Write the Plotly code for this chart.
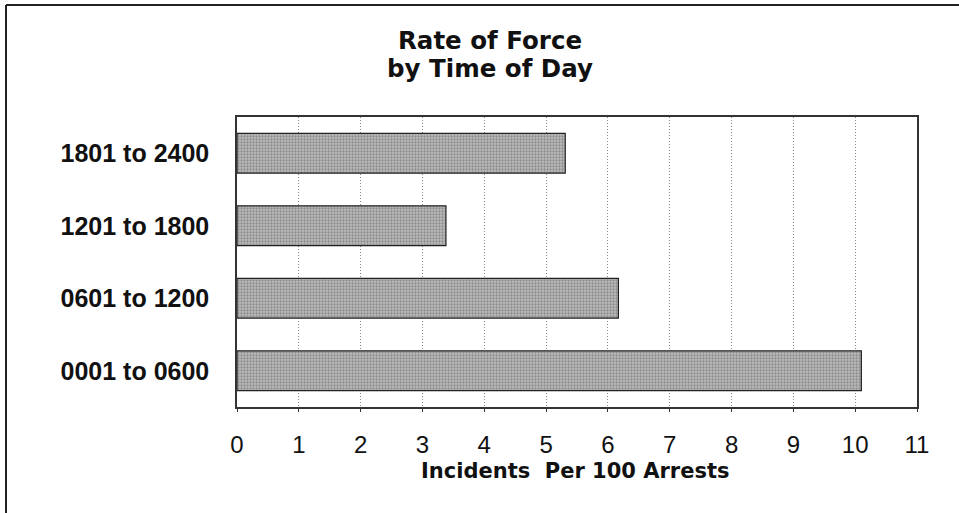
import plotly.graph_objects as go

categories = ["0001 to 0600", "0601 to 1200", "1201 to 1800", "1801 to 2400"]
values = [10.1, 6.17, 3.38, 5.31]
x_ticks = list(range(0, 12))
title_lines = ["Rate of Force", "by Time of Day"]
x_title = "Incidents&nbsp; Per 100 Arrests"

W, H = 959, 513
L, T = 237, 117
R = W - 917
B = H - 407
pw, ph = W - L - R, H - T - B

def px_x(p):
    return (p - L) / pw

def px_y(p):
    return (H - B - p) / ph

ARIAL = "Liberation Sans, Arial, sans-serif"
WIDE = "DejaVu Sans, Verdana, sans-serif"

fig = go.Figure(go.Bar(
    x=values, y=categories, orientation="h",
    marker=dict(color="#aaaaaa", line=dict(color="#222", width=1.2),
                pattern=dict(shape=".", fgcolor="#5a5a5a", bgcolor="#bdbdbd", size=3, solidity=0.45)),
    width=0.55,
))

fig.update_layout(
    width=W, height=H,
    margin=dict(l=L, r=R, t=T, b=B),
    paper_bgcolor="white", plot_bgcolor="white",
    showlegend=False,
    font=dict(family=ARIAL, color="#111"),
    xaxis=dict(range=[0, 11], tickvals=x_ticks, showgrid=True, gridcolor="#8a8a8a",
               griddash="1px,2px", gridwidth=1, showline=True, linecolor="#333", linewidth=1.5,
               mirror=True, ticks="outside", ticklen=3, tickcolor="#333",
               tickfont=dict(size=24, color="#111", family=ARIAL), ticklabelstandoff=12,
               zeroline=False, fixedrange=True),
    yaxis=dict(showgrid=False, showline=True, linecolor="#333", linewidth=1.5, mirror=True,
               ticks="", tickfont=dict(size=25, color="#111", family=ARIAL, weight="bold"),
               ticklabelstandoff=21, fixedrange=True),
    annotations=[
        dict(text="<b>%s</b>" % title_lines[0], x=px_x(490), y=px_y(40), xref="paper", yref="paper",
             showarrow=False, font=dict(size=24.5, family=WIDE), xanchor="center", yanchor="middle"),
        dict(text="<b>%s</b>" % title_lines[1], x=px_x(490), y=px_y(69), xref="paper", yref="paper",
             showarrow=False, font=dict(size=24.5, family=WIDE), xanchor="center", yanchor="middle"),
        dict(text="<b>%s</b>" % x_title, x=px_x(575), y=px_y(471), xref="paper", yref="paper",
             showarrow=False, font=dict(size=21, family=WIDE), xanchor="center", yanchor="middle"),
    ],
    shapes=[
        dict(type="line", xref="paper", yref="paper", x0=px_x(6), x1=px_x(959), y0=px_y(5), y1=px_y(5),
             line=dict(color="#222", width=2)),
        dict(type="line", xref="paper", yref="paper", x0=px_x(6), x1=px_x(6), y0=px_y(5), y1=px_y(513),
             line=dict(color="#222", width=2)),
    ],
)

fig.write_html("out.html", config={"displayModeBar": False},
               post_script="document.body.style.margin='0';")
